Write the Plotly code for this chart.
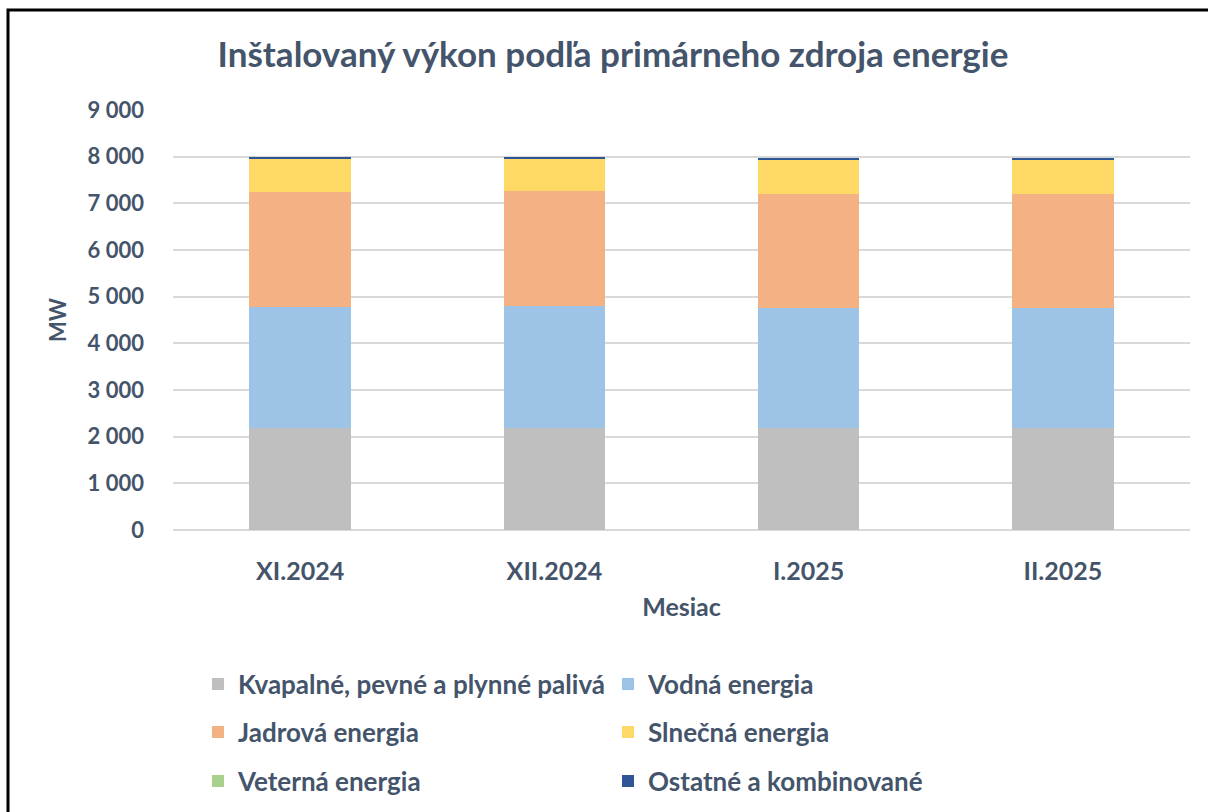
import plotly.graph_objects as go

months = ["XI.2024", "XII.2024", "I.2025", "II.2025"]
fossil = [2186, 2186, 2186, 2186]
hydro = [2600, 2604, 2564, 2564]
nuclear = [2450, 2470, 2456, 2456]
solar = [720, 705, 732, 734]
wind = [3, 3, 3, 3]
other = [25, 22, 30, 30]

series = [
    ("Kvapalné, pevné a plynné palivá", fossil, "#BFBFBF", "legend"),
    ("Vodná energia", hydro, "#9DC3E6", "legend"),
    ("Jadrová energia", nuclear, "#F4B183", "legend2"),
    ("Slnečná energia", solar, "#FFD966", "legend2"),
    ("Veterná energia", wind, "#A9D18E", "legend3"),
    ("Ostatné a kombinované", other, "#2F5597", "legend3"),
]

TXT = "#44546A"
FONT = "Lato"

W, H = 1208, 812
ML, MR, MT, MB = 173, 18, 110, 282

fig = go.Figure()
for name, vals, col, lg in series:
    fig.add_trace(go.Bar(x=months, y=vals, name="<b>" + name + "</b>", legend=lg,
                         marker=dict(color=col, line=dict(width=0))))

pw = W - ML - MR
ph = H - MT - MB

def px_x(p):
    return (p - ML) / pw

def px_y(p):
    return (H - MB - p) / ph

def leg(row_y):
    return dict(orientation="h", xref="container", yref="container",
                x=198 / W, xanchor="left", y=1 - row_y / H, yanchor="middle",
                entrywidth=365, entrywidthmode="pixels", traceorder="normal",
                font=dict(size=26, color=TXT, family=FONT), itemwidth=30,
                bgcolor="rgba(0,0,0,0)")

fig.update_layout(
    width=W, height=H,
    margin=dict(l=ML, r=MR, t=MT, b=MB, autoexpand=False),
    barmode="stack", bargap=0.6,
    plot_bgcolor="white", paper_bgcolor="white",
    font=dict(family=FONT, color=TXT, size=20),
    title=dict(text="<b>Inštalovaný výkon podľa primárneho zdroja energie</b>",
               x=px_x(613), xanchor="center", xref="paper",
               y=1 - 55 / H, yanchor="middle",
               font=dict(size=35, color=TXT, family=FONT)),
    xaxis=dict(showgrid=False, showline=False, ticks="", automargin=False,
               tickfont=dict(size=25, color=TXT, family=FONT),
               ticklabelstandoff=24, tickprefix="<b>", ticksuffix="</b>",
               title=dict(text="<b>Mesiac</b>", font=dict(size=25, color=TXT, family=FONT), standoff=14)),
    yaxis=dict(range=[0, 9000], dtick=1000, showgrid=True, gridcolor="#D9D9D9", gridwidth=1.5,
               zeroline=True, zerolinecolor="#D9D9D9", zerolinewidth=1.5, automargin=False,
               showline=False, ticks="", tickformat=",d", separatethousands=True,
               tickfont=dict(size=22, color=TXT, family=FONT),
               ticklabelstandoff=28, tickprefix="<b>", ticksuffix="</b>",
               title=dict(text="<b>MW</b>", font=dict(size=22, color=TXT, family=FONT), standoff=14)),
    separators=". ",
    legend=leg(684),
    legend2=leg(732),
    legend3=leg(781),
    shapes=[dict(type="rect", xref="paper", yref="paper",
                 x0=px_x(8), x1=px_x(1220), y0=px_y(830), y1=px_y(10),
                 line=dict(color="black", width=3), fillcolor="rgba(0,0,0,0)", layer="above")],
)

fig.write_html("out.html", config={"displayModeBar": False},
               post_script="document.body.style.margin='0';document.body.style.padding='0';")
